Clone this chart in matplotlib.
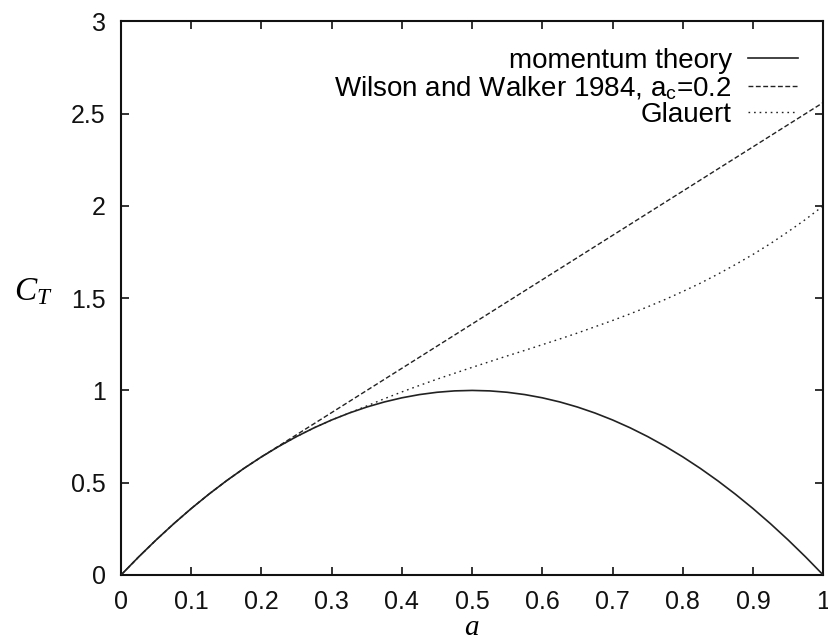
import matplotlib
matplotlib.use("Agg")
import matplotlib.pyplot as plt

plt.rcParams['font.family'] = ['Liberation Sans', 'DejaVu Sans']
plt.rcParams['mathtext.fontset'] = 'custom'
plt.rcParams['mathtext.rm'] = 'Liberation Sans'
plt.rcParams['mathtext.it'] = 'Liberation Serif:italic'

# axial induction factor a
a_values = [0.0, 0.025, 0.05, 0.075, 0.1, 0.125, 0.15, 0.175, 0.2, 0.225,
            0.25, 0.275, 0.3, 0.325, 0.35, 0.375, 0.4, 0.425, 0.45, 0.475,
            0.5, 0.525, 0.55, 0.575, 0.6, 0.625, 0.65, 0.675, 0.7, 0.725,
            0.75, 0.775, 0.8, 0.825, 0.85, 0.875, 0.9, 0.925, 0.95, 0.975, 1.0]

ct_momentum = [0.0, 0.0975, 0.19, 0.2775, 0.36, 0.4375, 0.51, 0.5775, 0.64, 0.6975,
               0.75, 0.7975, 0.84, 0.8775, 0.91, 0.9375, 0.96, 0.9775, 0.99, 0.9975,
               1.0, 0.9975, 0.99, 0.9775, 0.96, 0.9375, 0.91, 0.8775, 0.84, 0.7975,
               0.75, 0.6975, 0.64, 0.5775, 0.51, 0.4375, 0.36, 0.2775, 0.19, 0.0975, 0.0]

ct_wilson = [0.0, 0.0975, 0.19, 0.2775, 0.36, 0.4375, 0.51, 0.5775, 0.64, 0.70,
             0.76, 0.82, 0.88, 0.94, 1.00, 1.06, 1.12, 1.18, 1.24, 1.30,
             1.36, 1.42, 1.48, 1.54, 1.60, 1.66, 1.72, 1.78, 1.84, 1.90,
             1.96, 2.02, 2.08, 2.14, 2.20, 2.26, 2.32, 2.38, 2.44, 2.50, 2.56]

ct_glauert = [0.0, 0.0975, 0.19, 0.2775, 0.36, 0.4375, 0.51, 0.5775, 0.64, 0.6975,
              0.75, 0.7975, 0.84, 0.8775, 0.916, 0.955, 0.992, 1.027, 1.061, 1.093,
              1.125, 1.156, 1.187, 1.217, 1.248, 1.279, 1.311, 1.345, 1.379, 1.415,
              1.453, 1.493, 1.536, 1.581, 1.630, 1.682, 1.737, 1.796, 1.860, 1.927, 2.0]

series_labels = ["momentum theory",
                 "Wilson and Walker 1984, a$_\\mathrm{c}$=0.2",
                 "Glauert"]

x_ticks = [0, 0.1, 0.2, 0.3, 0.4, 0.5, 0.6, 0.7, 0.8, 0.9, 1]
x_ticklabels = ["0", "0.1", "0.2", "0.3", "0.4", "0.5", "0.6", "0.7", "0.8", "0.9", "1"]
y_ticks = [0, 0.5, 1, 1.5, 2, 2.5, 3]
y_ticklabels = ["0", "0.5", "1", "1.5", "2", "2.5", "3"]

fig = plt.figure(figsize=(8.29, 6.43), dpi=100)
ax = fig.add_axes([0.146, 0.1058, 0.847, 0.861])

col = '#222222'
ax.plot(a_values, ct_wilson, color=col, lw=1.0, dashes=(3.5, 1.8), label=series_labels[1], zorder=2)
ax.plot(a_values, ct_glauert, color=col, lw=1.0, dashes=(1.2, 2.8), label=series_labels[2], zorder=2)
ax.plot(a_values, ct_momentum, color=col, lw=1.2, label=series_labels[0], zorder=3)

ax.set_xlim(0, 1)
ax.set_ylim(0, 3)
ax.set_xticks(x_ticks)
ax.set_xticklabels(x_ticklabels)
ax.set_yticks(y_ticks)
ax.set_yticklabels(y_ticklabels)
ax.tick_params(direction='in', length=6, width=1.2, top=True, right=True,
               labelsize=18, pad=11, colors='#111111')
for s in ax.spines.values():
    s.set_linewidth(1.5)
    s.set_color('#111111')

ax.set_xlabel("$a$", fontsize=21)
ax.xaxis.set_label_coords(0.5, -0.12)
ax.xaxis.label.set_va('bottom')
ax.set_ylabel("$C_T$", fontsize=24, rotation=0)
ax.yaxis.set_label_coords(-0.125, 0.511)
ax.yaxis.label.set_va('center')
ax.yaxis.label.set_ha('center')

h, l = ax.get_legend_handles_labels()
order = [2, 0, 1]
ax.legend([h[i] for i in order], [l[i] for i in order], loc='upper right',
          frameon=False, markerfirst=False, fontsize=20, handlelength=1.8,
          handletextpad=0.58, labelspacing=0.0, borderaxespad=0.0, borderpad=0.0,
          bbox_to_anchor=(0.964, 0.952))

fig.savefig("out.png", dpi=100)
